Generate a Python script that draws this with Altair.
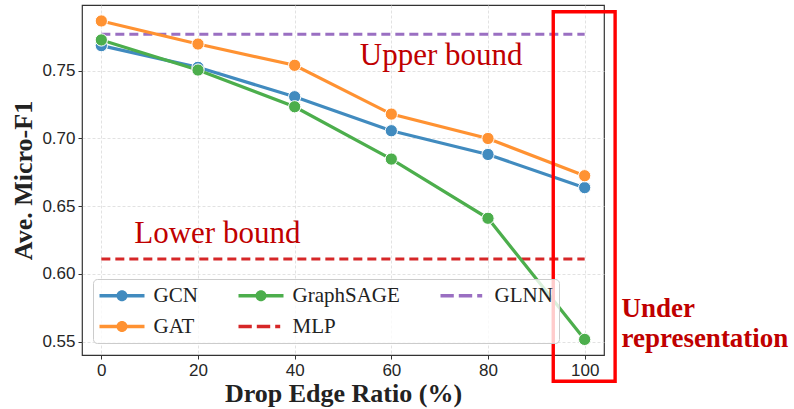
import altair as alt
import pandas as pd

# Drop-edge ratios (%) and averaged Micro-F1 for each GNN
ratios = [0, 20, 40, 60, 80, 100]
gcn_f1 = [0.7685, 0.7525, 0.7308, 0.7057, 0.6882, 0.6637]
gat_f1 = [0.7867, 0.7697, 0.7540, 0.7180, 0.7000, 0.6725]
sage_f1 = [0.7727, 0.7505, 0.7234, 0.6848, 0.6411, 0.5517]

# Graph-free baselines (constant across ratios)
glnn_f1 = 0.7769
mlp_f1 = 0.6110

# Legend entry order (filled column by column, two rows)
methods = ["GCN", "GAT", "GraphSAGE", "MLP", "GLNN"]
colors = ["#418bbf", "#ff9232", "#4cae4c", "#d62728", "#9a6fc2"]

gnn_rows = []
for name, vals in [("GCN", gcn_f1), ("GAT", gat_f1), ("GraphSAGE", sage_f1)]:
    for r, v in zip(ratios, vals):
        gnn_rows.append({"method": name, "ratio": r, "f1": v})
gnn_df = pd.DataFrame(gnn_rows)

base_df = pd.DataFrame(
    [{"method": "GLNN", "ratio": r, "f1": glnn_f1} for r in (ratios[0], ratios[-1])]
    + [{"method": "MLP", "ratio": r, "f1": mlp_f1} for r in (ratios[0], ratios[-1])]
)

# one key row per method, tucked under the first GCN marker
legend_df = pd.DataFrame({"method": methods, "ratio": [ratios[0]] * 5, "f1": [gcn_f1[0]] * 5})

# Annotation labels (anchored in data units)
bound_df = pd.DataFrame({
    "label": ["Upper bound", "Lower bound"],
    "ratio": [70.3, 24.0],
    "f1": [0.7542, 0.6229],
})
under_df = pd.DataFrame({"label": ["Under\nrepresentation"], "ratio": [107.6], "f1": [0.5684]})
box_df = pd.DataFrame({"x1": [93.5], "x2": [106.3], "y1": [0.7935], "y2": [0.5208]})

x_scale = alt.Scale(domain=[-4, 104], nice=False, zero=False)
y_scale = alt.Scale(domain=[0.5402, 0.7985], nice=False, zero=False)
color_scale = alt.Scale(domain=methods, range=colors)

# Legend glyphs: a line with a dot for the GNNs, a dashed line for baselines.
# Drawn at symbolSize 400 (half-width 10 px per unit), so +-2.25 units = 45 px wide.
marker_glyph = (
    "M-2.25,-0.17L2.25,-0.17L2.25,0.17L-2.25,0.17Z"
    "M0.55,0A0.55,0.55 0 1,1 -0.55,0A0.55,0.55 0 1,1 0.55,0Z"
)
dash_glyph = (
    "M-2.25,-0.17L-0.92,-0.17L-0.92,0.17L-2.25,0.17Z"
    "M-0.42,-0.17L0.92,-0.17L0.92,0.17L-0.42,0.17Z"
    "M1.42,-0.17L1.92,-0.17L1.92,0.17L1.42,0.17Z"
)
shape_scale = alt.Scale(
    domain=methods,
    range=[marker_glyph, marker_glyph, marker_glyph, dash_glyph, dash_glyph],
)

legend = alt.Legend(
    title=None,
    orient="none",
    legendX=11,
    legendY=274,
    columns=3,
    symbolSize=400,
    symbolOffset=12.5,
    symbolStrokeWidth=0,
    symbolOpacity=1,
    labelFont="Liberation Serif",
    labelFontSize=21,
    labelColor="#222222",
    labelOffset=21,
    columnPadding=40,
    rowPadding=9,
    padding=6,
    fillColor="rgba(255,255,255,0.8)",
    strokeColor="#cccccc",
    cornerRadius=4,
    zindex=1,
)

x_enc = alt.X(
    "ratio:Q",
    scale=x_scale,
    axis=alt.Axis(values=ratios, title="Drop Edge Ratio (%)"),
)
y_enc = alt.Y(
    "f1:Q",
    scale=y_scale,
    axis=alt.Axis(values=[0.55, 0.60, 0.65, 0.70, 0.75], format=".2f", title="Ave. Micro-F1"),
)
color_enc = alt.Color("method:N", scale=color_scale, legend=legend)

legend_layer = alt.Chart(legend_df).mark_point(filled=True, size=1, opacity=1).encode(
    x=x_enc, y=y_enc,
    color=color_enc,
    shape=alt.Shape("method:N", scale=shape_scale, legend=legend),
)

baseline_lines = alt.Chart(base_df).mark_line(strokeWidth=3, strokeDash=[9, 5]).encode(
    x=x_enc, y=y_enc, color=color_enc,
)

gnn_lines = alt.Chart(gnn_df).mark_line(strokeWidth=3.2).encode(
    x=x_enc, y=y_enc, color=color_enc,
)

gnn_points = alt.Chart(gnn_df).mark_point(
    filled=True, size=150, opacity=1, stroke="white", strokeWidth=1
).encode(
    x=x_enc, y=y_enc, color=color_enc,
)

bound_text = alt.Chart(bound_df).mark_text(
    font="Liberation Serif", fontSize=31, color="#c00000",
    align="center", baseline="alphabetic",
).encode(x=x_enc, y=y_enc, text="label:N")

under_text = alt.Chart(under_df).mark_text(
    font="Liberation Serif", fontSize=27, fontWeight="bold", color="#c00000",
    align="left", baseline="alphabetic", lineBreak="\n", lineHeight=30,
).encode(x=x_enc, y=y_enc, text="label:N")

box = alt.Chart(box_df).mark_rect(
    fillOpacity=0, stroke="#ff0000", strokeWidth=3.4
).encode(
    x=alt.X("x1:Q", scale=x_scale),
    x2="x2:Q",
    y=alt.Y("y1:Q", scale=y_scale),
    y2="y2:Q",
)

chart = alt.layer(
    legend_layer, bound_text, baseline_lines, gnn_lines, gnn_points, under_text, box
).properties(
    width=522,
    height=350,
    padding={"left": 82, "top": 5, "right": 190, "bottom": 54},
    autosize=alt.AutoSizeParams(type="none"),
).configure_view(
    stroke="#333333", strokeWidth=1.2
).configure_axis(
    domain=False,
    grid=True,
    gridColor="#dadada",
    gridDash=[3, 2],
    gridWidth=0.8,
    ticks=True,
    tickColor="#333333",
    tickSize=4,
    tickWidth=1,
    labelFont="Liberation Sans",
    labelFontSize=17,
    labelColor="#262626",
    labelPadding=3,
    titleFont="Liberation Serif",
    titleFontSize=26,
    titleFontWeight="bold",
    titleColor="#222222",
).configure_axisX(
    titlePadding=2,
).configure_axisY(
    titlePadding=5,
)

chart.save("out.html", embed_options={"renderer": "svg", "actions": False})
